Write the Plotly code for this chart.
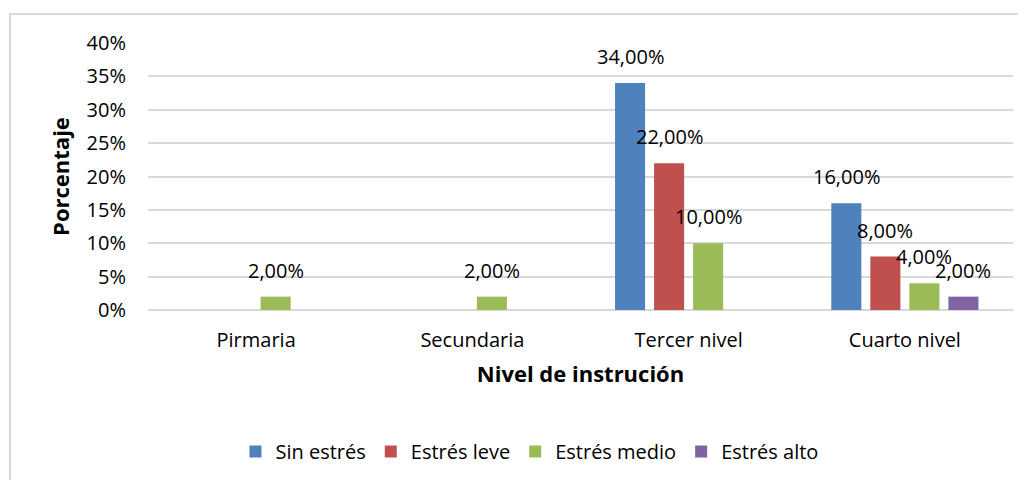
import plotly.graph_objects as go

categories = ["Pirmaria", "Secundaria", "Tercer nivel", "Cuarto nivel"]
series_names = ["Sin estrés", "Estrés leve", "Estrés medio", "Estrés alto"]
sin_estres = [0.0, 0.0, 0.34, 0.16]
estres_leve = [0.0, 0.0, 0.22, 0.08]
estres_medio = [0.02, 0.02, 0.10, 0.04]
estres_alto = [0.0, 0.0, 0.0, 0.02]
y_ticks = [0, 0.05, 0.10, 0.15, 0.20, 0.25, 0.30, 0.35, 0.40]

colors = ["#4F81BD", "#C0504D", "#9BBB59", "#8064A2"]
values = [sin_estres, estres_leve, estres_medio, estres_alto]

FONT = "Open Sans"

fig = go.Figure()
for name, vals, col in zip(series_names, values, colors):
    fig.add_trace(go.Bar(
        x=categories, y=vals, name=name, marker_color=col,
        marker_line_width=0,
    ))

# data labels above nonzero bars
n = len(series_names)
slot = 39
for i, vals in enumerate(values):
    shift = (i - (n - 1) / 2) * slot
    for c, v in zip(categories, vals):
        if v > 0:
            fig.add_annotation(
                x=c, y=v, xref="x", yref="y", xshift=shift, yshift=11,
                text=f"{v*100:.2f}%".replace(".", ","),
                showarrow=False, yanchor="bottom",
                font=dict(family=FONT, size=20, color="#000000"),
            )

# outer chart border
fig.add_shape(type="rect", xref="paper", yref="paper",
              x0=-0.1595, x1=1.0139, y0=-0.66, y1=1.1086,
              line=dict(color="#D9D9D9", width=2), fillcolor="rgba(0,0,0,0)",
              layer="below")

fig.update_layout(
    width=1018, height=472,
    margin=dict(l=140, r=13, t=35, b=170, autoexpand=False),
    paper_bgcolor="white", plot_bgcolor="white",
    barmode="group", bargap=0.278, bargroupgap=0.23,
    font=dict(family=FONT, size=20, color="#000000"),
    showlegend=True,
    legend=dict(orientation="h", x=0.441, xanchor="center", y=-0.53, yanchor="middle",
                font=dict(family=FONT, size=20), itemwidth=30,
                traceorder="normal"),
    xaxis=dict(
        title=dict(text="<b>Nivel de instrución</b>", font=dict(family=FONT, size=22), standoff=14),
        showgrid=False, showline=False, ticks="outside", ticklen=12, tickcolor="rgba(0,0,0,0)",
        tickfont=dict(family=FONT, size=20), automargin=False,
    ),
    yaxis=dict(
        title=dict(text="<b>Porcentaje</b>", font=dict(family=FONT, size=22), standoff=10),
        range=[0, 0.4], tickvals=y_ticks, tickformat=".0%",
        showgrid=True, gridcolor="#D9D9D9", gridwidth=2,
        zeroline=True, zerolinecolor="#D9D9D9", zerolinewidth=2,
        showline=False, ticks="outside", ticklen=17, tickcolor="rgba(0,0,0,0)",
        tickfont=dict(family=FONT, size=20), automargin=False,
    ),
)

fig.write_html("out.html")
